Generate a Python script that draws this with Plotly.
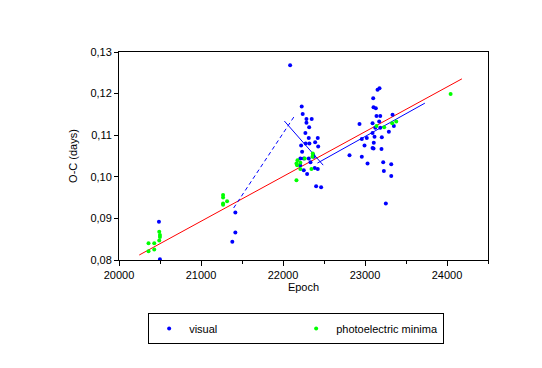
import plotly.graph_objects as go

visual_epoch = [20487, 20499, 21419, 21419, 21382, 22087, 22228, 22240, 22286, 22286,
                22350, 22319, 22273, 22314, 22424, 22392, 22277, 22322, 22429, 22221,
                22233, 22212, 22253, 22314, 22375, 22209, 22253, 22294, 22387, 22424,
                22404, 22465, 22367, 22335,
                22811, 23177, 23153, 23100, 23104, 23132, 23140, 23186, 23336, 22933,
                23092, 23173, 23125, 23186, 23352, 23291, 23092, 23116, 23205, 23022,
                22961, 23107, 22994, 23092, 23104, 23201, 22961, 23031, 23222, 23230,
                23320, 23320, 23254]
visual_oc = [0.0892, 0.0802, 0.0914, 0.0866, 0.0844, 0.1268, 0.1169, 0.1151, 0.1139, 0.1130,
             0.1139, 0.1119, 0.1105, 0.1093, 0.1093, 0.1083, 0.1080, 0.1080, 0.1073, 0.1075,
             0.1060, 0.1044, 0.1044, 0.1044, 0.1048, 0.1028, 0.1016, 0.1007, 0.1021, 0.1019,
             0.0977, 0.0975, 0.1053, 0.1035,
             0.1052, 0.1213, 0.1209, 0.1189, 0.1167, 0.1165, 0.1146, 0.1146, 0.1149, 0.1127,
             0.1129, 0.1133, 0.1118, 0.1118, 0.1122, 0.1108, 0.1105, 0.1096, 0.1095, 0.1093,
             0.1091, 0.1082, 0.1075, 0.1069, 0.1068, 0.1067, 0.1048, 0.1032, 0.1035, 0.1014,
             0.1030, 0.1002, 0.0936]

photo_epoch = [20360, 20430, 20360, 20430, 20491, 20499, 20499, 20491,
               21269, 21269, 21269, 21269, 21318,
               22164, 22212, 22265, 22363, 22359, 22172, 22212, 22347, 22164, 22177,
               23140, 23234, 23332, 23381, 24044]
photo_oc = [0.0840, 0.0840, 0.0821, 0.0825, 0.0868, 0.0860, 0.0855, 0.0847,
            0.0956, 0.0950, 0.0936, 0.0933, 0.0941,
            0.1032, 0.1034, 0.1044, 0.1056, 0.1048, 0.1028, 0.1019, 0.1019, 0.0992, 0.1040,
            0.1122, 0.1119, 0.1129, 0.1133, 0.1199]

red_epoch = [20247, 24182]
red_oc = [0.0812, 0.12355]
dash_epoch = [21398, 22143]
dash_oc = [0.0925, 0.1147]
seg1_epoch = [22017, 22490]
seg1_oc = [0.1134, 0.1028]
seg2_epoch = [22420, 23730]
seg2_oc = [0.1033, 0.1177]

fig = go.Figure()
fig.add_trace(go.Scatter(x=red_epoch, y=red_oc, mode="lines",
                         line=dict(color="#FF0000", width=1), showlegend=False))
fig.add_trace(go.Scatter(x=dash_epoch, y=dash_oc, mode="lines",
                         line=dict(color="#0000FF", width=1, dash="4px,3px"), showlegend=False))
fig.add_trace(go.Scatter(x=seg1_epoch, y=seg1_oc, mode="lines",
                         line=dict(color="#0000FF", width=1), showlegend=False))
fig.add_trace(go.Scatter(x=seg2_epoch, y=seg2_oc, mode="lines",
                         line=dict(color="#0000FF", width=1), showlegend=False))
fig.add_trace(go.Scatter(x=visual_epoch, y=visual_oc, mode="markers", name="visual",
                         marker=dict(color="#0000FF", size=4, symbol="circle")))
fig.add_trace(go.Scatter(x=photo_epoch, y=photo_oc, mode="markers", name="photoelectric minima",
                         marker=dict(color="#00FF00", size=4, symbol="circle")))

axis_font = dict(family="Liberation Sans, Arial, sans-serif", size=11, color="black")
fig.update_layout(
    width=542, height=368,
    margin=dict(l=119, r=54, t=52, b=108),
    paper_bgcolor="white", plot_bgcolor="white",
    separators=",.",
    font=axis_font,
    showlegend=True,
    legend=dict(orientation="h", x=0.079, xanchor="left", y=-0.255, yanchor="top",
                bordercolor="black", borderwidth=1, bgcolor="white",
                font=axis_font, entrywidth=102, itemwidth=30),
    xaxis=dict(range=[20000, 24500], tickmode="linear", tick0=20000, dtick=1000,
               tickformat="d", ticks="outside", ticklen=5, tickcolor="black",
               showline=True, linecolor="black", linewidth=1, mirror=True,
               showgrid=False, zeroline=False,
               minor=dict(dtick=500, ticks="outside", ticklen=3, tickcolor="black"),
               title=dict(text="Epoch", font=axis_font, standoff=2), tickfont=axis_font),
    yaxis=dict(range=[0.08, 0.13], tickmode="linear", tick0=0.08, dtick=0.01,
               tickformat=".2f", ticks="outside", ticklen=4, tickcolor="black",
               showline=True, linecolor="black", linewidth=1, mirror=True,
               showgrid=False, zeroline=False,
               title=dict(text="O-C (days)", font=axis_font, standoff=10), tickfont=axis_font),
)

fig.write_html("out.html", config={"displayModeBar": False},
               post_script="document.body.style.margin='0';document.body.style.overflow='hidden';")
